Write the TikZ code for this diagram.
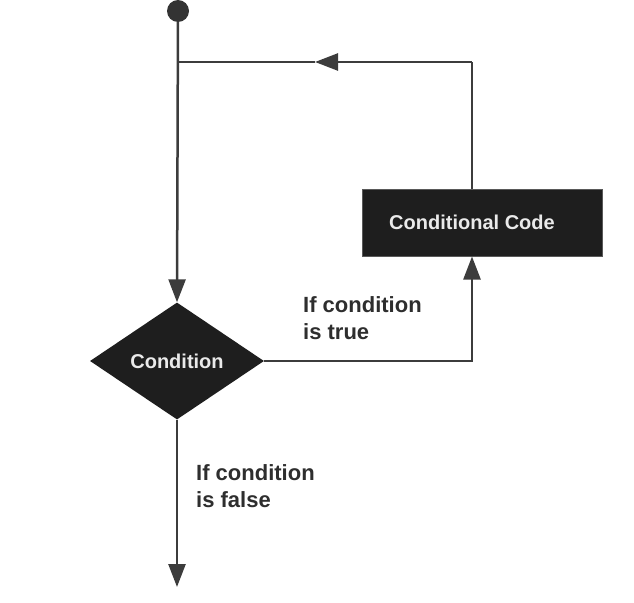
\documentclass[tikz,border=0pt]{standalone}
\usepackage{fontspec}
\setmainfont{Liberation Sans}
\usetikzlibrary{shapes.geometric,arrows.meta}
\definecolor{linegray}{HTML}{3C3C3C}
\definecolor{boxfill}{HTML}{1E1E1E}
\definecolor{labelgray}{HTML}{2E2E2E}
\definecolor{boxtext}{HTML}{EAEAEA}
\begin{document}
\begin{tikzpicture}[x=1pt,y=-1pt,
  flow/.style={draw=linegray,line width=2.5pt},
  tip/.style={-{Triangle[length=23pt,width=17pt]}},
  blockbox/.style={rectangle,fill=boxfill,draw=gray!70!black,line width=1pt,
    minimum width=240pt,minimum height=67pt,inner sep=0pt,
    text=boxtext,font=\bfseries\fontsize{20}{24}\selectfont},
  decision/.style={diamond,fill=boxfill,inner sep=0pt,
    minimum width=174pt,minimum height=117pt,
    text=boxtext,font=\bfseries\fontsize{20}{24}\selectfont},
  branchlabel/.style={anchor=north west,inner sep=0pt,align=left,
    text=labelgray,font=\bfseries\fontsize{22}{27}\selectfont}]
  \useasboundingbox (0,0) rectangle (634,602);

  % start point
  \node[circle,fill=linegray!85!black,minimum size=22pt,inner sep=0pt] (start) at (178,11) {};

  % blocks (the box text sits over the loop line, left of the box centre)
  \node[decision] (cond) at (177,361) {Condition};
  \node[blockbox] (code) at (482,222.5) {Conditional Code\kern20pt};

  % helper points for the loop path
  \coordinate (join) at (178,62);
  \coordinate (loopcorner) at (472,62);
  \coordinate (looptip) at (315,62);
  \coordinate (truecorner) at (472,361);
  \coordinate (exit) at (177,587);

  % entry into the decision
  \draw[flow,tip] (start) -- (cond.north);

  % loop back from the conditional code
  \draw[flow] (loopcorner |- code.north) -- (loopcorner);
  \draw[flow,tip] (loopcorner) -- (looptip);
  \draw[flow] (looptip) -- (join);

  % true branch
  \draw[flow,tip] (cond.east) -- (truecorner) -- (truecorner |- code.south);

  % false branch
  \draw[flow,tip] (cond.south) -- (exit);

  % branch labels
  \node[branchlabel] (truelabel) at (303,296) {If condition\\ is true};
  \node[branchlabel] (falselabel) at (196,464) {If condition\\is false};
\end{tikzpicture}
\end{document}
